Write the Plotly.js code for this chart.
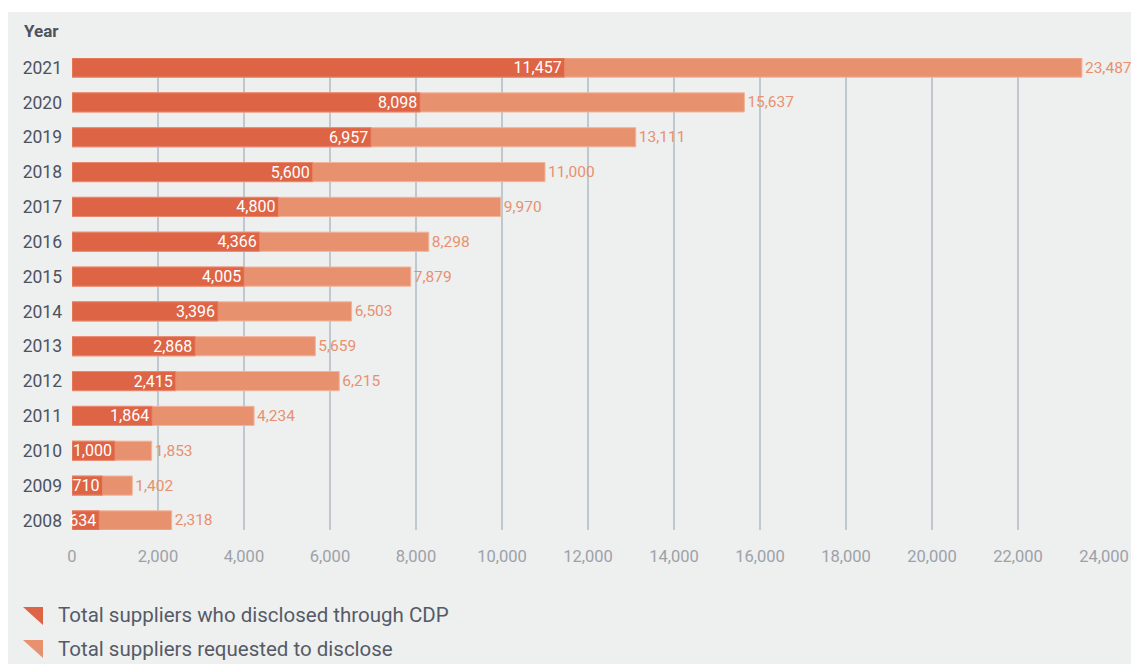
<!DOCTYPE html>
<html><head><meta charset="utf-8">
<script src="https://cdn.plot.ly/plotly-3.0.1.min.js"></script>
<style>
html,body{margin:0;padding:0;background:#ffffff;width:1131px;height:664px;overflow:hidden;}
#chart{position:absolute;left:8px;top:12px;width:1123px;height:652px;}
</style></head>
<body><div id="chart"></div>
<script>
const years = [2021,2020,2019,2018,2017,2016,2015,2014,2013,2012,2011,2010,2009,2008];
const disclosed = [11457,8098,6957,5600,4800,4366,4005,3396,2868,2415,1864,1000,710,634];
const requested = [23487,15637,13111,11000,9970,8298,7879,6503,5659,6215,4234,1853,1402,2318];
const seriesNames = ['Total suppliers who disclosed through CDP','Total suppliers requested to disclose'];
const xTicks = [0,2000,4000,6000,8000,10000,12000,14000,16000,18000,20000,22000,24000];

const DARK = '#dd6445', LIGHT = '#e8916f';
const W = 1123, H = 652, ML = 64, MR = 27, MT = 46, MB = 134;
const pw = W - ML - MR, ph = H - MT - MB;
// page pixel -> paper coords (div offset 8,12)
const px = x => (x - 8 - ML) / pw;
const py = y => (H - MB - (y - 12)) / ph;

const fmt = v => v.toLocaleString('en-US');

const traces = [
  {type:'bar', orientation:'h', y:years, x:requested, name:seriesNames[1], width:0.55,
   marker:{color:LIGHT, line:{color:'#f2b49a', width:1}},
   text:requested.map(fmt), textposition:'outside', cliponaxis:false, constraintext:'none',
   textfont:{family:'Roboto', size:15.5, color:LIGHT}, showlegend:false, hoverinfo:'skip'},
  {type:'bar', orientation:'h', y:years, x:disclosed, name:seriesNames[0], width:0.55,
   marker:{color:DARK, line:{color:'#e98a70', width:1}},
   text:disclosed.map(fmt), textposition:'inside', insidetextanchor:'end', constraintext:'none', cliponaxis:false,
   textfont:{family:'Roboto', size:16, color:'#ffffff'}, showlegend:false, hoverinfo:'skip'}
];

const tri = (x0,y0,x1,y1,col) => ({type:'path', xref:'paper', yref:'paper',
  path:`M ${px(x0)} ${py(y0)} L ${px(x1)} ${py(y0)} L ${px(x1)} ${py(y1)} Z`,
  fillcolor:col, line:{width:0}});

const layout = {
  width:W, height:H,
  margin:{l:ML, r:MR, t:MT, b:MB},
  paper_bgcolor:'#eeefef', plot_bgcolor:'rgba(0,0,0,0)',
  barmode:'overlay', bargap:0,
  font:{family:'Roboto'},
  xaxis:{range:[0,24000], tickvals:xTicks, ticktext:xTicks.map(fmt),
    showgrid:true, gridcolor:'#bfc7cf', gridwidth:1.5, zeroline:false, showline:false,
    ticks:'', ticklabelstandoff:14, tickfont:{family:'Roboto', size:16.5, color:'#9ca2a9'}, fixedrange:true},
  yaxis:{range:[2007.725, 2021.275], tickvals:years, ticktext:years.map(String),
    showgrid:false, zeroline:false, showline:false, ticks:'', ticklabelstandoff:9,
    tickfont:{family:'Roboto', size:17.5, color:'#4d5360'}, fixedrange:true},
  annotations:[
    {xref:'paper', yref:'paper', x:px(22), y:py(31), xanchor:'left', yanchor:'middle',
     text:'<b>Year</b>', showarrow:false, font:{family:'Roboto', size:17, color:'#4d5360'}},
    {xref:'paper', yref:'paper', x:px(56), y:py(615), xanchor:'left', yanchor:'middle',
     text:seriesNames[0], showarrow:false, font:{family:'Roboto', size:20.5, color:'#555b66'}},
    {xref:'paper', yref:'paper', x:px(56), y:py(649), xanchor:'left', yanchor:'middle',
     text:seriesNames[1], showarrow:false, font:{family:'Roboto', size:20.5, color:'#555b66'}}
  ],
  shapes:[ tri(23,607,43,625,DARK), tri(23,640,43,658,LIGHT) ]
};

Plotly.newPlot('chart', traces, layout, {displayModeBar:false, staticPlot:true});
</script></body></html>
